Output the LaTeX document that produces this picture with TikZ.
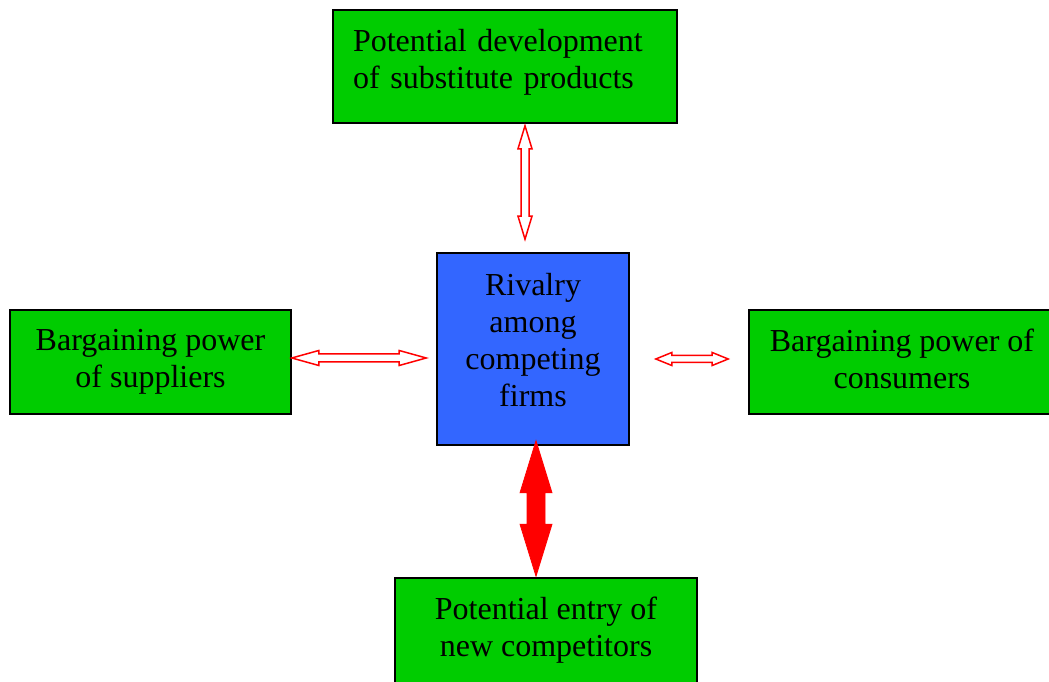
\documentclass[tikz,border=0pt]{standalone}
\usepackage{fontspec}
\setmainfont{Liberation Serif}
\usetikzlibrary{calc}
\definecolor{boxgreen}{RGB}{0,204,0}
\definecolor{boxblue}{RGB}{51,102,255}
\tikzset{
  force/.style={draw=black, line width=1.6pt, fill=boxgreen, inner sep=0pt, align=center,
    font=\fontsize{32}{37}\selectfont},
  rival/.style={draw=black, line width=1.6pt, fill=boxblue, inner sep=0pt, align=center,
    font=\fontsize{32}{37}\selectfont},
  hollow/.style={draw=red, line width=1.5pt, fill=white, line join=miter},
  solid/.style={draw=red, line width=0.8pt, fill=red, line join=miter}
}
% #1 start coord, #2 end coord, #3 head length, #4 shaft half width, #5 head half width, #6 style
\newcommand\porterarrow[6]{%
  \coordinate (#1-#2-h1) at ($(#1)!#3pt!(#2)$);
  \coordinate (#1-#2-h2) at ($(#2)!#3pt!(#1)$);
  \path[#6] (#1)
    -- ($(#1-#2-h1)!#5pt!90:(#2)$) -- ($(#1-#2-h1)!#4pt!90:(#2)$)
    -- ($(#1-#2-h2)!#4pt!-90:(#1)$) -- ($(#1-#2-h2)!#5pt!-90:(#1)$)
    -- (#2)
    -- ($(#1-#2-h2)!#5pt!90:(#1)$) -- ($(#1-#2-h2)!#4pt!90:(#1)$)
    -- ($(#1-#2-h1)!#4pt!-90:(#2)$) -- ($(#1-#2-h1)!#5pt!-90:(#2)$)
    -- cycle;
}
\begin{document}
\begin{tikzpicture}[x=1pt,y=1pt]
\path[use as bounding box, clip] (0,0) rectangle (1049,682);
\fill[white] (0,0) rectangle (1049,682);

\node[force, minimum width=344pt, minimum height=113pt, text width=304pt, align=left, text depth=53pt]
  (T) at (505,615.5) {Potential development\\of substitute products};
\node[force, minimum width=281pt, minimum height=104pt] (L) at (150.5,320)
  {Bargaining power\\of suppliers};
\node[rival, minimum width=192pt, minimum height=192pt, text depth=18pt] (C) at (533,333)
  {Rivalry\\among\\competing\\firms};
\node[force, minimum width=306pt, minimum height=104pt, text depth=6pt] (R) at (902,320)
  {Bargaining power of\\consumers};
\node[force, minimum width=302pt, minimum height=113pt, text depth=15pt] (B) at (546,47.5)
  {Potential entry of\\new competitors};

\coordinate (ta) at ($(T.south)+(20,-2)$);
\coordinate (tb) at ($(C.north)+(-8,13)$);
\coordinate (la) at ($(L.east)+(0,4)$);
\coordinate (lb) at ($(C.west)+(-10,-9)$);
\coordinate (ra) at ($(C.east)+(26,-10)$);
\coordinate (rb) at ($(R.west)+(-20,3)$);
\coordinate (ba) at ($(C.south)+(3,5)$);
\coordinate (bb) at ($(B.north)+(-10,1)$);

\porterarrow{ta}{tb}{23}{4}{7}{hollow}
\porterarrow{la}{lb}{27}{4}{7.5}{hollow}
\porterarrow{ra}{rb}{16}{3.5}{6.5}{hollow}
\porterarrow{ba}{bb}{52}{9}{16}{solid}
\end{tikzpicture}
\end{document}
